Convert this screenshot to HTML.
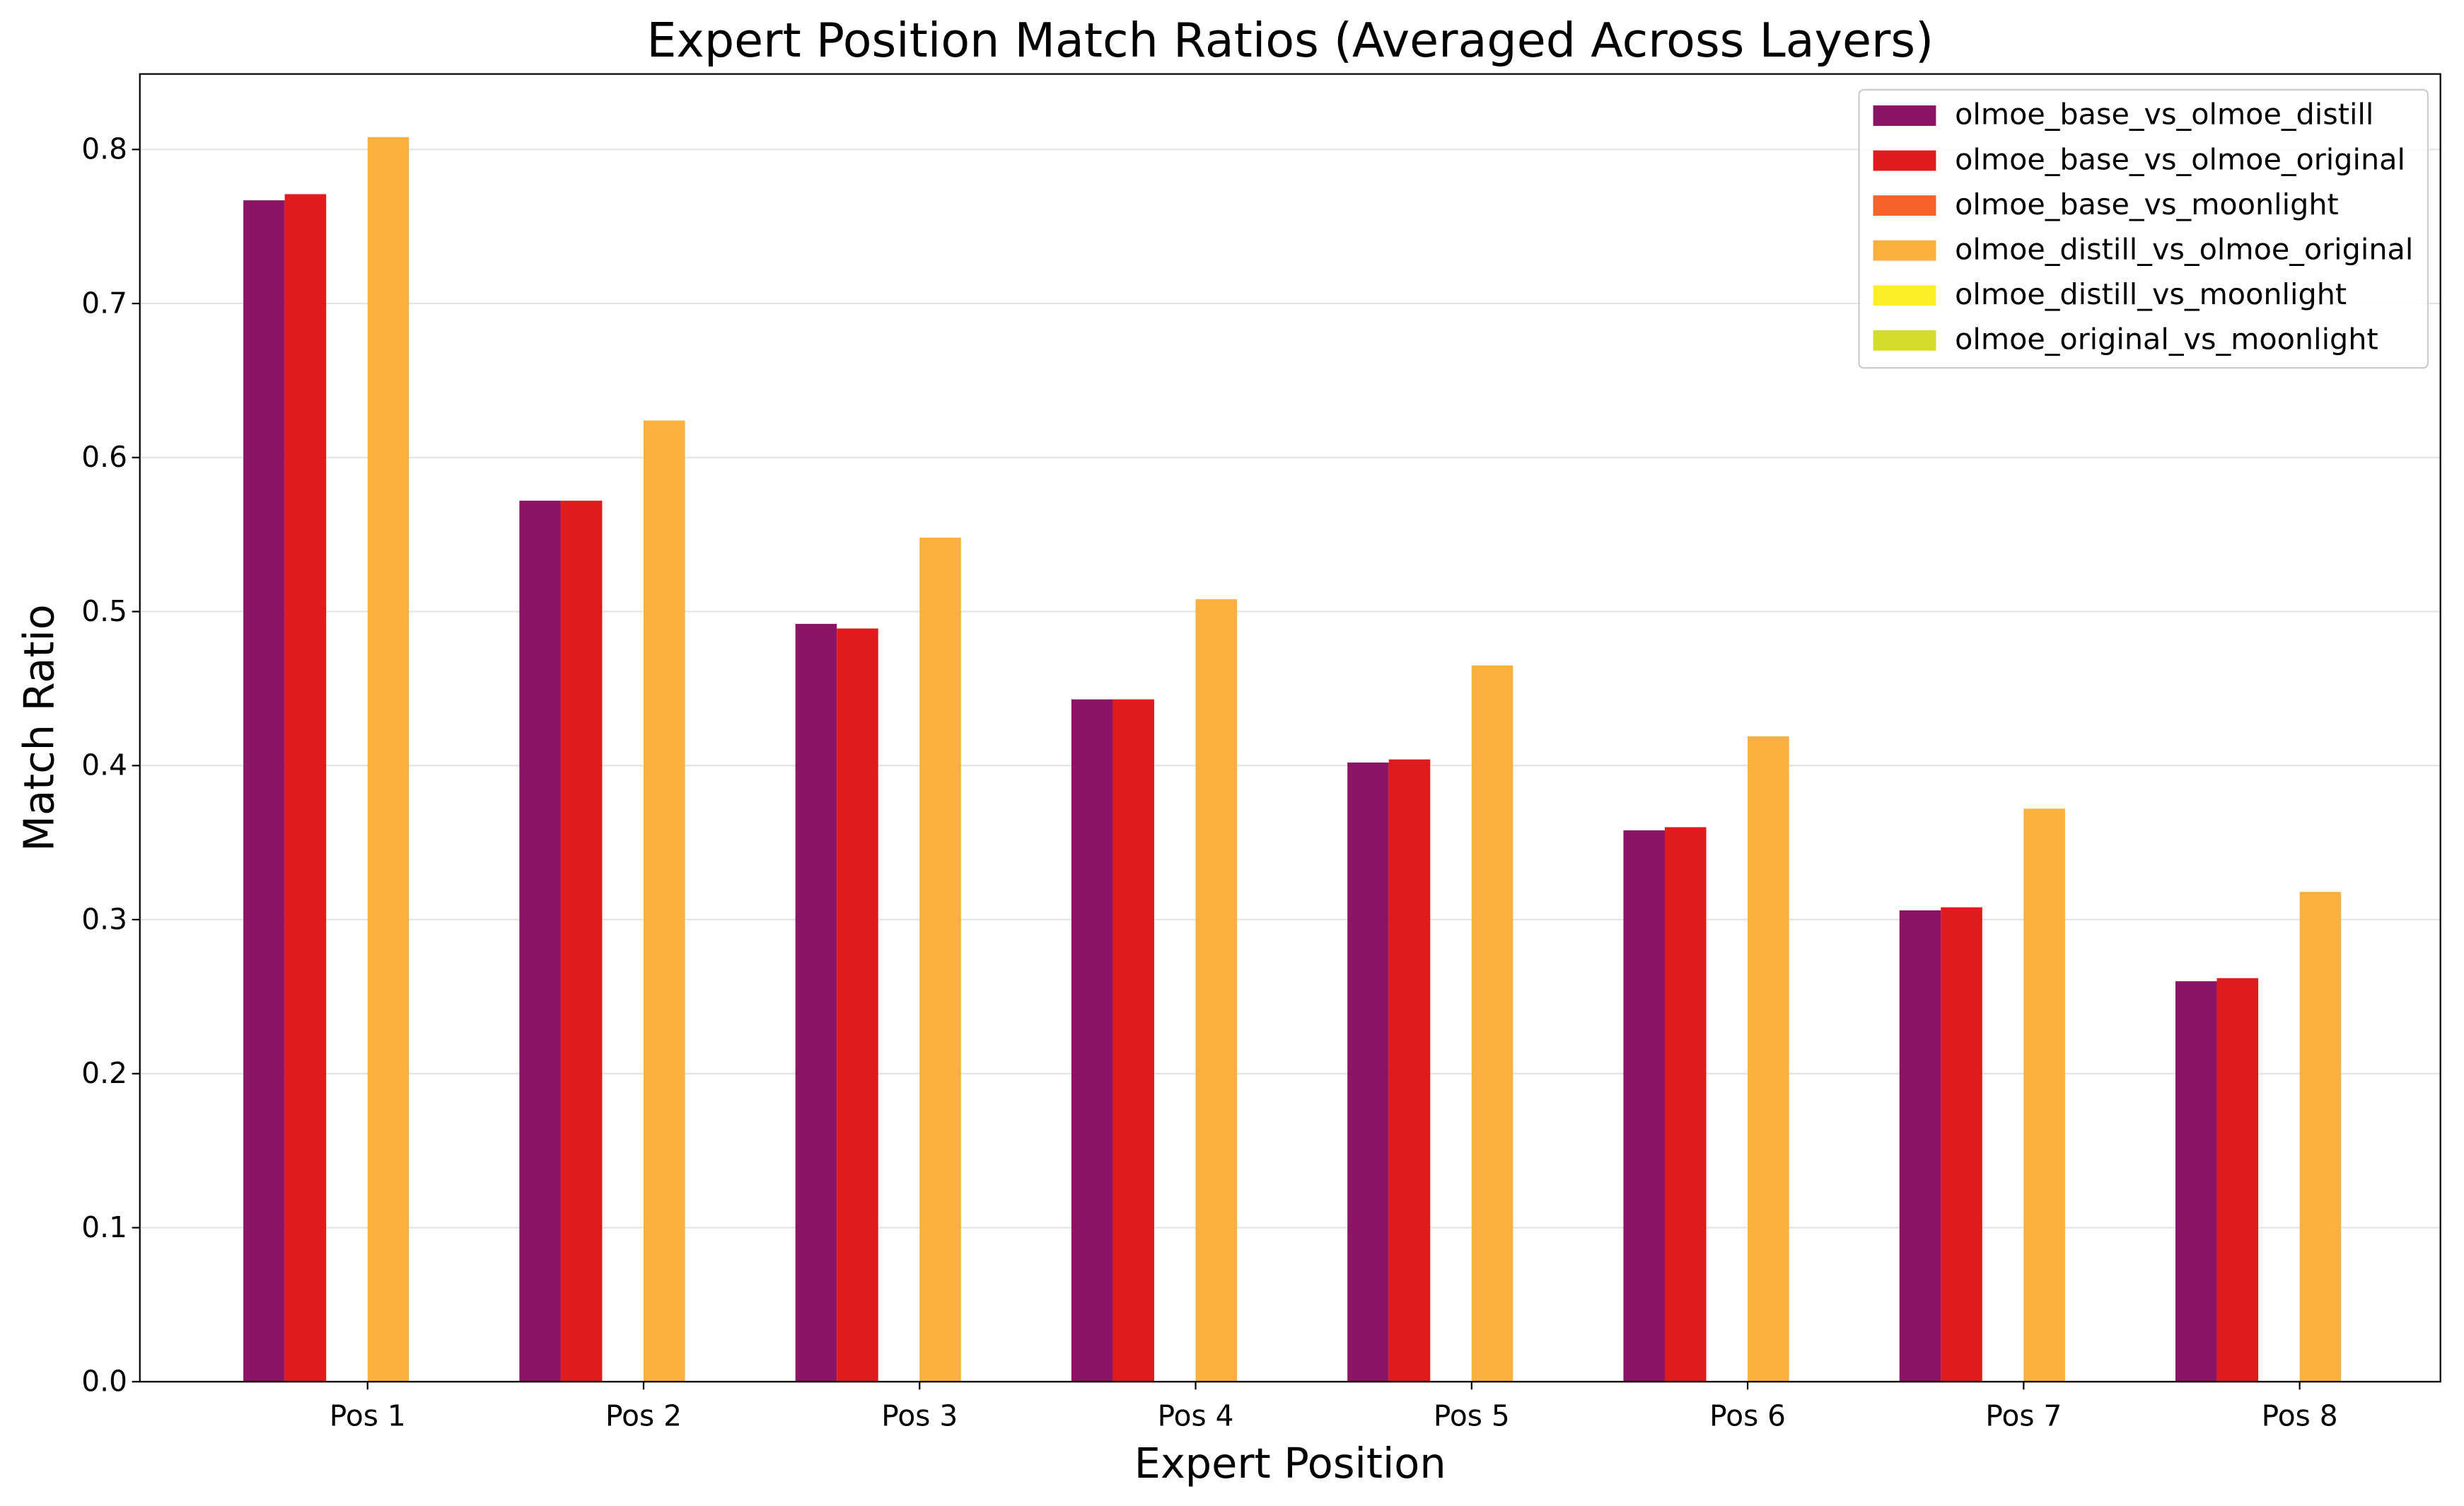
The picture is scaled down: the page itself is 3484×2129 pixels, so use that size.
<!DOCTYPE html>
<html><head><meta charset="utf-8"><style>html,body{margin:0;padding:0;background:#fff}svg{display:block}text{font-family:"DejaVu Sans","Liberation Sans",sans-serif;fill:#000}</style></head>
<body>
<svg id="chart" width="3484" height="2129" viewBox="0 0 1568 958" xmlns="http://www.w3.org/2000/svg">
<rect width="1568" height="958" fill="#fff"/>
<g id="grid"></g>
<g id="bars"></g>
<rect x="89" y="47" width="1464" height="832" fill="none" stroke="#000" stroke-width="1"/>
<g id="yticks"></g>
<g id="xticks"></g>
<text x="821" y="36" font-size="30" text-anchor="middle">Expert Position Match Ratios (Averaged Across Layers)</text>
<text x="821" y="940" font-size="26.5" text-anchor="middle">Expert Position</text>
<text x="0" y="0" font-size="26.5" text-anchor="middle" transform="translate(34,463) rotate(-90)">Match Ratio</text>
<g id="legend"></g>
</svg>
<script>
const categories=["Pos 1","Pos 2","Pos 3","Pos 4","Pos 5","Pos 6","Pos 7","Pos 8"];
const seriesNames=["olmoe_base_vs_olmoe_distill","olmoe_base_vs_olmoe_original","olmoe_base_vs_moonlight","olmoe_distill_vs_olmoe_original","olmoe_distill_vs_moonlight","olmoe_original_vs_moonlight"];
const baseDistill=[0.767,0.572,0.492,0.443,0.402,0.358,0.306,0.260];
const baseOriginal=[0.771,0.572,0.489,0.443,0.404,0.360,0.308,0.262];
const baseMoonlight=[0,0,0,0,0,0,0,0];
const distillOriginal=[0.808,0.624,0.548,0.508,0.465,0.419,0.372,0.318];
const distillMoonlight=[0,0,0,0,0,0,0,0];
const originalMoonlight=[0,0,0,0,0,0,0,0];
const yTicks=[0,0.1,0.2,0.3,0.4,0.5,0.6,0.7,0.8];
const colors=["#8b1467","#e01b1d","#f4622a","#fbaf3c","#fcef2a","#d4dc2a"];
const series=[baseDistill,baseOriginal,baseMoonlight,distillOriginal,distillMoonlight,originalMoonlight];
const NS="http://www.w3.org/2000/svg";
const L=89,R=1553,T=47,B=879,xmin=-0.825,xmax=7.51,ymax=0.849;
const xs=v=>L+(v-xmin)/(xmax-xmin)*(R-L);
const ys=v=>B-v/ymax*(B-T);
function mk(t,a,p){const e=document.createElementNS(NS,t);for(const k in a)e.setAttribute(k,a[k]);p.appendChild(e);return e;}
const grid=document.getElementById('grid'),yt=document.getElementById('yticks'),xt=document.getElementById('xticks'),bars=document.getElementById('bars'),leg=document.getElementById('legend');
yTicks.forEach(v=>{
 const g=mk('line',{x1:L,x2:R,y1:ys(v),y2:ys(v),stroke:'#e3e3e3','stroke-width':1},grid);
 
 
 mk('line',{x1:L-5,x2:L,y1:ys(v),y2:ys(v),stroke:'#000'},yt);
 const t=mk('text',{x:L-8,y:ys(v)+6,'font-size':18.3,'text-anchor':'end'},yt);t.textContent=v.toFixed(1);
 
 
});
const w=0.15;
categories.forEach((c,i)=>{
 mk('line',{x1:xs(i),x2:xs(i),y1:B,y2:B+5,stroke:'#000'},xt);
 const t=mk('text',{x:xs(i),y:B+28,'font-size':18.3,'text-anchor':'middle'},xt);t.textContent=c;
 
 
 series.forEach((s,j)=>{
  const cx=i+(j-2.5)*w,x0=xs(cx-w/2),x1=xs(cx+w/2);
  const r=mk('rect',{x:x0,y:ys(s[i]),width:x1-x0,height:B-ys(s[i]),fill:colors[j]},bars);
  
  
 });
});
mk('rect',{x:1183,y:57,width:362,height:177,rx:3,fill:'#fff','fill-opacity':0.85,stroke:'#ccc'},leg);
seriesNames.forEach((n,j)=>{
 const y=73+j*28.6;
 mk('rect',{x:1192,y:y-6,width:40,height:13,fill:colors[j]},leg);
 const t=mk('text',{x:1244,y:y+6,'font-size':18.6},leg);t.textContent=n;
 
 
});
</script>
</body></html>
